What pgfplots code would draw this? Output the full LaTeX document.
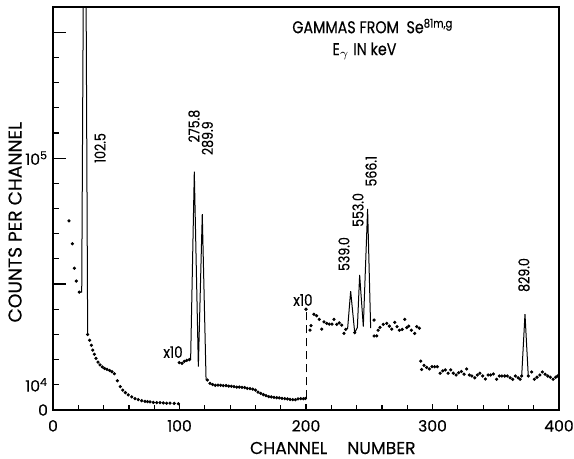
\documentclass[border=0pt]{standalone}
\usepackage{fontspec}
\setmainfont{Poppins}[FakeStretch=0.84, FakeBold=0.4]
\newfontfamily\widefont{Poppins}[FakeBold=0.3]
\usepackage{pgfplots}
\pgfplotsset{compat=1.18}
\begin{document}
\begin{tikzpicture}
\begin{axis}[
  scale only axis, width=253pt, height=201.5pt,
  xmin=0, xmax=400, ymin=0, ymax=16,
  axis line style={line width=0.7pt},
  xtick={0,100,200,300,400}, xticklabels={0,100,200,300,400},
  minor x tick num=4,
  ytick={0,1,...,15},
  yticklabels={0,10\textsuperscript{4},,,,,,,,,10\textsuperscript{5},,,,,},
  extra y ticks={5,10,15}, extra y tick labels={},
  extra y tick style={major tick length=6.5pt},
  tick align=inside, xtick pos=bottom, ytick pos=left,
  major tick length=3pt, minor tick length=2.5pt,
  tick style={black, line width=0.6pt},
  x tick label style={font=\widefont\fontsize{7.8}{9}\selectfont, yshift=-1.5pt},
  y tick label style={font=\widefont\fontsize{7.8}{9}\selectfont, xshift=1pt},
  xlabel={CHANNEL\hspace{10pt}NUMBER},
  ylabel={COUNTS PER CHANNEL},
  xlabel style={font=\widefont\fontsize{8.6}{10}\selectfont, at={(axis description cs:0.553,0)}, anchor=center, yshift=-19pt},
  ylabel style={font=\widefont\fontsize{9.3}{10}\selectfont, at={(axis description cs:-0.075,0.466)}, anchor=center},
  clip=true,
]
% dots, first part
\addplot[only marks, mark=*, mark size=0.6pt] coordinates {
(12.6,7.51)(15.3,6.60)(16.9,5.63)(18.4,5.12)(20.8,4.68)
(27.4,3.00)(29.0,2.77)(30.3,2.57)(31.4,2.38)(32.7,2.21)(34.0,2.05)
(35.6,1.90)(37.2,1.79)(39.0,1.71)(40.8,1.65)(42.7,1.61)(44.8,1.57)
(46.6,1.52)(48.5,1.44)(50.9,1.16)(53.2,0.93)(55.1,0.79)(57.2,0.69)
(59.5,0.60)(62.2,0.52)(64.8,0.45)(67.4,0.41)(70.1,0.37)(72.7,0.34)
(74.7,0.33)(76.7,0.32)(79.3,0.30)(82.0,0.29)(84.6,0.29)(87.2,0.28)
(89.8,0.27)(92.5,0.27)(95.8,0.26)(99.1,0.25)
};
\addplot[black, line width=0.5pt] coordinates {
(20.8,4.68)(22.7,4.68)(24.0,17)(26.1,17)(27.4,3.00)
};
% x10 middle part
\addplot[only marks, mark=*, mark size=0.6pt] coordinates {
(99.8,1.88)(102.0,1.85)(103.8,1.93)(105.7,1.97)(107.8,2.00)
(122.0,1.19)(124.1,1.06)(126.2,1.01)(128.3,0.98)(130.4,0.99)(132.5,0.98)
(134.6,0.97)(136.8,0.97)(138.9,0.95)(141.0,0.94)(143.1,0.93)(145.2,0.91)
(147.3,0.91)(149.4,0.90)(151.5,0.89)(153.6,0.86)(155.7,0.85)(157.9,0.83)
(160.0,0.79)(162.1,0.71)(164.2,0.66)(166.3,0.61)(168.4,0.57)(170.5,0.53)
(172.6,0.52)(174.7,0.50)(176.8,0.49)(178.9,0.48)(181.0,0.46)(183.2,0.45)
(185.3,0.44)(187.4,0.42)(189.5,0.41)(191.6,0.41)(193.7,0.44)(195.8,0.45)
(197.9,0.45)(199.5,0.46)
};
\addplot[black, line width=0.5pt] coordinates {
(107.8,2.00)(108.8,2.01)(111.7,9.46)(114.9,1.72)(118.0,7.78)(121.0,1.19)
};
\addplot[black, line width=0.5pt, dash pattern=on 4pt off 2.5pt] coordinates {
(200,0.46)(200,4.0)
};
% x10 right part
\addplot[only marks, mark=*, mark size=0.6pt] coordinates {
(200.0,4.00)(203.2,3.17)(204.0,3.35)(206.3,3.80)(208.4,3.74)(210.5,3.60)
(212.4,3.21)(214.2,3.50)(216.4,3.44)(218.4,3.41)(220.6,3.41)(222.1,3.60)
(224.3,3.40)(226.3,3.46)(228.2,3.37)(230.0,3.04)(231.4,3.20)
(238.5,3.07)(253.8,3.57)(253.8,2.94)(255.9,2.94)(257.0,3.17)(258.5,3.28)
(261.1,3.40)(263.8,3.44)(265.9,3.33)(267.8,3.21)(270.2,3.48)(272.0,3.31)
(273.8,3.17)(276.0,3.20)(278.1,3.60)(279.6,3.27)(281.2,3.33)(283.3,3.17)
(285.9,3.04)(287.5,3.31)(289.6,3.25)
};
\addplot[black, line width=0.5pt] coordinates {
(231.4,3.20)(232.9,3.24)(235.3,4.72)(238.5,3.07)(240.6,3.27)(242.4,5.36)
(245.3,3.31)(248.7,7.98)(251.1,3.25)
};
% x10 far right part
\addplot[only marks, mark=*, mark size=0.6pt] coordinates {
(290.7,1.94)(291.4,1.61)(293.3,1.77)(295.4,1.69)(297.5,1.63)(299.6,1.72)
(301.7,1.72)(303.8,1.72)(306.0,1.46)(308.1,1.55)(310.1,1.59)(312.3,1.46)
(314.4,1.59)(316.4,1.46)(318.6,1.39)(320.7,1.48)(322.8,1.53)(324.9,1.42)
(327.0,1.63)(329.1,1.39)(331.2,1.35)(333.4,1.28)(335.4,1.39)(337.5,1.46)
(339.7,1.35)(341.8,1.23)(343.9,1.39)(346.0,1.39)(348.1,1.43)(350.7,1.22)
(352.8,1.35)(354.9,1.35)(357.1,1.35)(359.1,1.35)(361.3,1.28)(363.4,1.22)
(365.5,1.35)(367.6,1.28)(369.2,1.22)(370.5,1.35)(375.7,1.35)(378.4,1.51)
(380.5,1.22)(382.6,1.30)(384.8,1.39)(386.8,1.51)(389.0,1.42)(391.1,1.35)
(393.1,1.30)(395.3,1.22)(397.4,1.30)(398.9,1.35)
};
\addplot[black, line width=0.5pt] coordinates {
(370.5,1.35)(373.1,3.81)(375.7,1.35)
};
% peak labels
\begin{scope}[every node/.style={font=\fontsize{7.5}{8}\selectfont, rotate=90, inner sep=0pt}]
\node at (axis cs:37.2,10.40) {102.5};
\node at (axis cs:111.5,11.27) {275.8};
\node at (axis cs:122.1,10.79) {289.9};
\node at (axis cs:230.0,6.19) {539.0};
\node at (axis cs:241.1,7.94) {553.0};
\node at (axis cs:251.4,9.48) {566.1};
\node at (axis cs:372.3,5.36) {829.0};
\end{scope}
\node[font=\fontsize{8}{9}\selectfont, inner sep=0pt] at (axis cs:94.9,2.30) {x10};
\node[font=\fontsize{8}{9}\selectfont, inner sep=0pt] at (axis cs:197.6,4.37) {x10};
\node[font=\fontsize{8.5}{9}\selectfont, anchor=base west, inner sep=0pt] at (axis cs:188.9,14.96) {GAMMAS FROM\ \ Se\textsuperscript{81m,g}};
\node[font=\fontsize{8.5}{9}\selectfont, anchor=base west, inner sep=0pt] at (axis cs:220.6,14.09) {E$_{\gamma}$ IN keV};
\coordinate (sw) at (rel axis cs:0,0);
\coordinate (ne) at (rel axis cs:1,1);
\end{axis}
\pgfresetboundingbox
\useasboundingbox ([xshift=-26.5pt,yshift=-24pt]sw) rectangle ([xshift=7.5pt,yshift=3.5pt]ne);
\end{tikzpicture}
\end{document}
